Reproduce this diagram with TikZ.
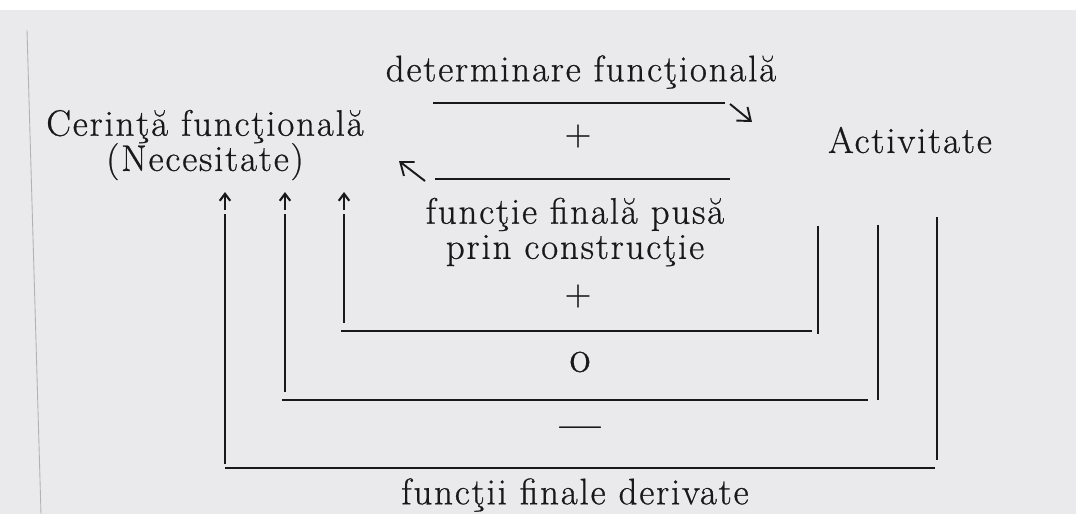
\documentclass[tikz,border=0pt]{standalone}
\usepackage{fontspec}
\setmainfont{Latin Modern Roman}[LetterSpace=5,FakeBold=0.7]
\usetikzlibrary{arrows.meta}
\definecolor{paper}{RGB}{234,234,236}
\definecolor{ink}{RGB}{25,25,28}
\begin{document}
\begin{tikzpicture}[x=0.02cm,y=-0.02cm,
  lbl/.style={text=ink,inner sep=0pt,font=\fontsize{21}{20}\selectfont,align=center},
  bar/.style={draw=ink,line width=1.3pt},
  tip/.style={draw=ink,line width=1.1pt,-{Straight Barb[length=6.5pt,width=10pt]}},
  uptip/.style={draw=ink,line width=1.2pt,-{Straight Barb[length=4pt,width=6pt]}}]
\useasboundingbox (0,0) rectangle (1076,514);
\fill[white] (0,0) rectangle (1076,514);
\fill[paper] (0,10) rectangle (1076,514);
\draw[gray!60,line width=0.5pt] (27,30) -- (41,514);

% texts
\node[lbl] (det) at (581,72) {determinare funcţională};
\node[lbl] (cer) at (205,145) {Cerinţă funcţională\\(Necesitate)};
\node[lbl] (act) at (910,140) {Activitate};
\node[lbl] (plus1) at (578,136) {+};
\node[lbl] (ffp) at (575,232) {funcţie finală pusă\\prin construcţie};
\node[lbl] (plus2) at (578,296) {+};
\node[lbl,font=\fontsize{26}{26}\selectfont] (zero) at (580,362) {o};
\node[lbl,font=\fontsize{21}{20}\selectfont\bfseries] (minus) at (580,432) {—};
\node[lbl] (fd) at (575,495) {funcţii finale derivate};

% top arrows
\coordinate (t1) at (433,103); \coordinate (t2) at (725,103);
\coordinate (ta) at (730,104); \coordinate (tb) at (752,122);
\draw[bar] (t1) -- (t2);
\draw[tip] (ta) -- (tb);
\coordinate (b1) at (435,179); \coordinate (b2) at (730,179);
\coordinate (ba) at (425,181); \coordinate (bb) at (399,161);
\draw[bar] (b1) -- (b2);
\draw[tip] (ba) -- (bb);

% up arrows
\foreach \x/\n in {225/o,285/m,344/i}{
  \coordinate (u\n a) at (\x,210);
  \coordinate (u\n b) at (\x,192);
  \draw[uptip] (u\n a) -- (u\n b);
}

% inner loop
\coordinate (i1) at (344,214); \coordinate (i2) at (344,323);
\coordinate (i3) at (341,331); \coordinate (i4) at (812,331);
\coordinate (i5) at (818,226); \coordinate (i6) at (818,334);
\draw[bar] (i1) -- (i2);
\draw[bar] (i3) -- (i4);
\draw[bar] (i5) -- (i6);

% middle loop
\coordinate (m1) at (285,214); \coordinate (m2) at (285,392);
\coordinate (m3) at (282,400); \coordinate (m4) at (868,400);
\coordinate (m5) at (878,225); \coordinate (m6) at (878,400);
\draw[bar] (m1) -- (m2);
\draw[bar] (m3) -- (m4);
\draw[bar] (m5) -- (m6);

% outer loop
\coordinate (o1) at (225,214); \coordinate (o2) at (225,464);
\coordinate (o3) at (225,468); \coordinate (o4) at (935,468);
\coordinate (o5) at (937,217); \coordinate (o6) at (937,460);
\draw[bar] (o1) -- (o2);
\draw[bar] (o3) -- (o4);
\draw[bar] (o5) -- (o6);
\end{tikzpicture}
\end{document}
